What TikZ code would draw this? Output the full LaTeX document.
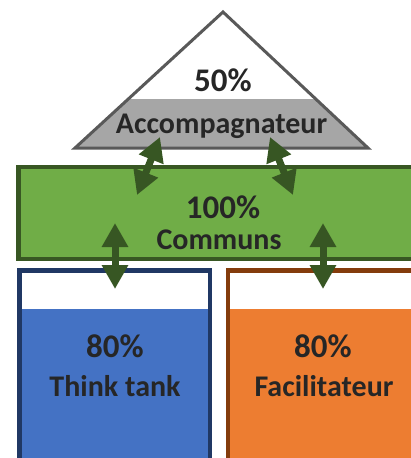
\documentclass[tikz,border=0pt]{standalone}
\usepackage{fontspec}
\setmainfont{Carlito}
\usetikzlibrary{arrows.meta}
\definecolor{txt}{HTML}{262626}
\definecolor{trigray}{HTML}{A6A6A6}
\definecolor{triedge}{HTML}{595959}
\definecolor{grfill}{HTML}{70AD47}
\definecolor{gredge}{HTML}{385723}
\definecolor{arr}{HTML}{375623}
\definecolor{blfill}{HTML}{4472C4}
\definecolor{bledge}{HTML}{203864}
\definecolor{orfill}{HTML}{ED7D31}
\definecolor{oredge}{HTML}{843C0C}
\tikzset{
  pct/.style={anchor=base,text=txt,font=\fontsize{33}{36}\selectfont\bfseries,inner sep=0pt,text height=0.64em,text depth=0pt},
  lbl/.style={anchor=base,text=txt,font=\fontsize{30}{33}\selectfont\bfseries,inner sep=0pt,text height=0.66em},
  dbl/.style={draw=arr,line width=7pt,{Triangle[width=25pt,length=24pt]}-{Triangle[width=25pt,length=24pt]}},
}
\begin{document}
\begin{tikzpicture}[x=1pt,y=-1pt]
\clip (0,0) rectangle (411,458);
\fill[white] (0,0) rectangle (411,458);
% triangle
\begin{scope}
\clip (223,12) -- (75,148) -- (368,148) -- cycle;
\fill[trigray] (0,99) rectangle (411,148);
\end{scope}
\draw[triedge,line width=3pt,line join=miter] (223,12) -- (75,148) -- (368,148) -- cycle;
% green band
\draw[gredge,fill=grfill,line width=4.5pt] (18.5,167) rectangle (430,259);
% blue box
\fill[blfill] (19.5,309) rectangle (210,470);
\draw[bledge,line width=4.4pt] (19.5,470) -- (19.5,270.5) -- (210,270.5) -- (210,470);
% orange box
\fill[orfill] (228,309) rectangle (430,470);
\draw[oredge,line width=4.4pt] (228,470) -- (228,270.5) -- (430,270.5);
% texts
\node[pct] (p50) at (223,91.7) {50\%};
\node[lbl] (acc) at (221.5,133.3) {Accompagnateur};
\node[pct] (p100) at (223,218.5) {100\%};
\node[lbl] (com) at (219,249.5) {Communs};
\node[pct] (p80a) at (115,357.3) {80\%};
\node[lbl] (tt) at (115,396.7) {Think tank};
\node[pct] (p80b) at (323,357.3) {80\%};
\node[lbl] (fac) at (324,396.7) {Facilitateur};
% arrows
\coordinate (a1s) at (160,137); \coordinate (a1e) at (137,195);
\coordinate (a2s) at (270,137); \coordinate (a2e) at (293,195);
\coordinate (a3s) at (115,223); \coordinate (a3e) at (115,289);
\coordinate (a4s) at (323,223); \coordinate (a4e) at (323,289);
\draw[dbl] (a1s) -- (a1e);
\draw[dbl] (a2s) -- (a2e);
\draw[dbl] (a3s) -- (a3e);
\draw[dbl] (a4s) -- (a4e);
\end{tikzpicture}
\end{document}
